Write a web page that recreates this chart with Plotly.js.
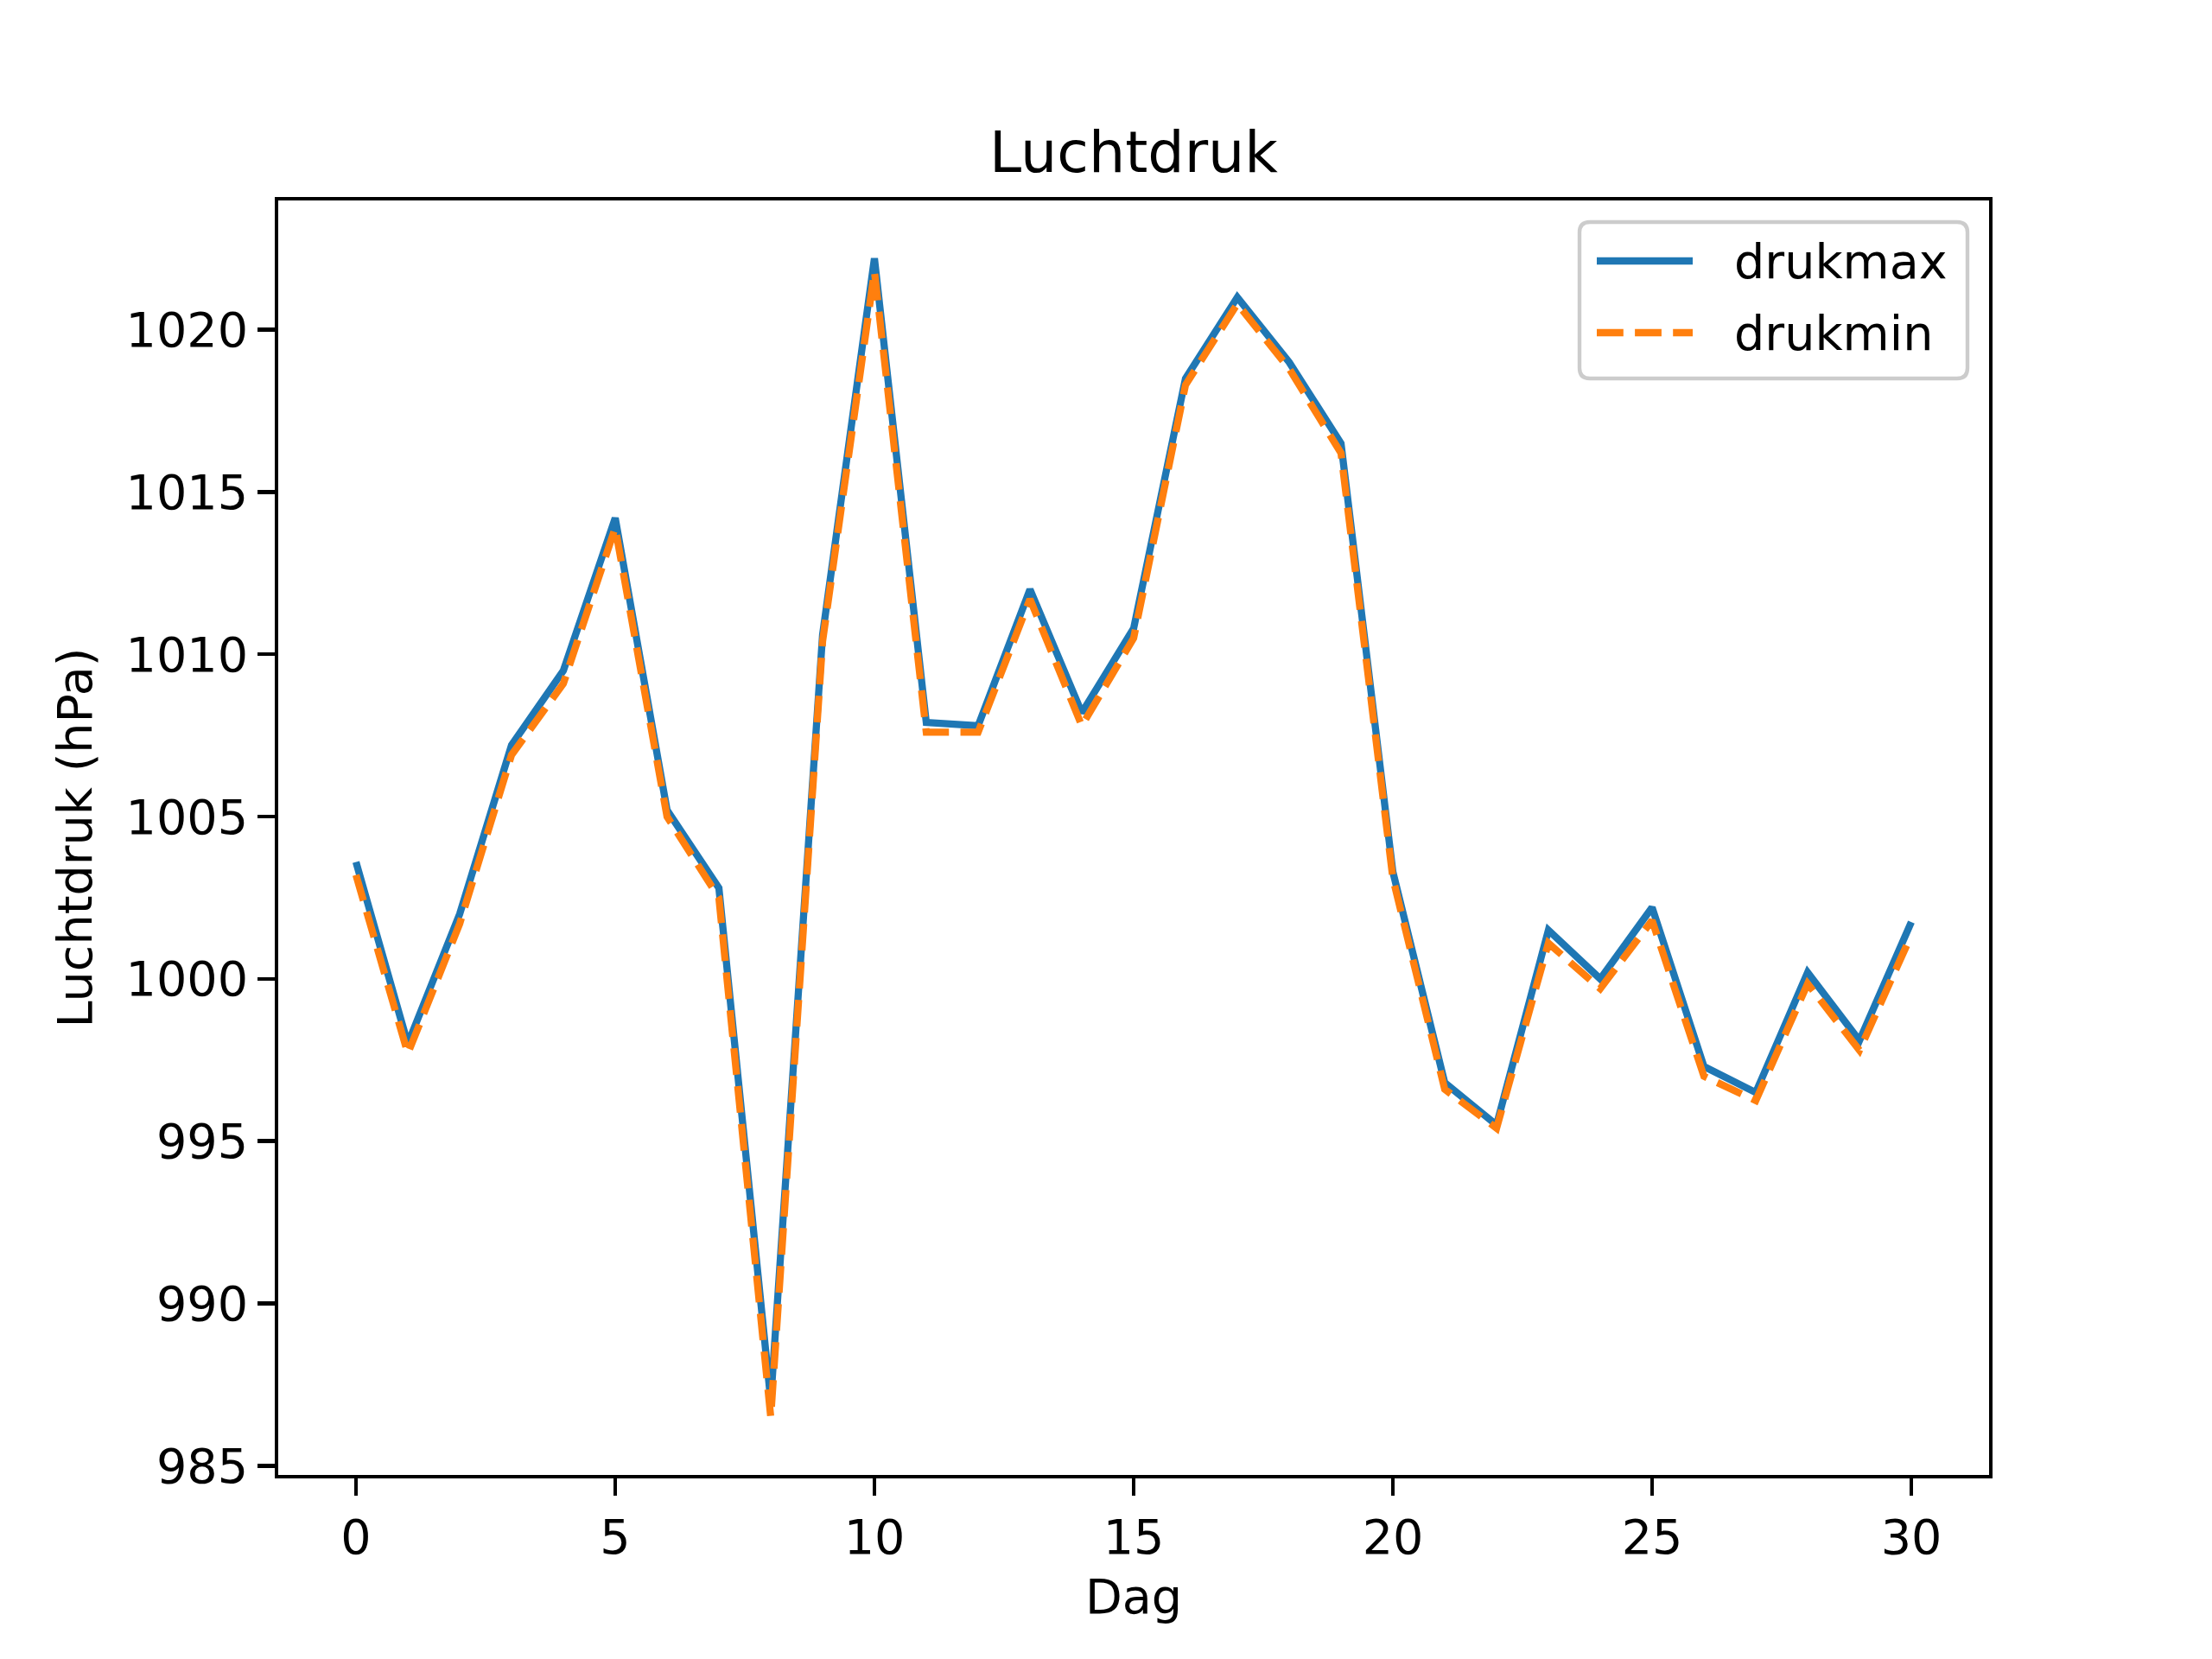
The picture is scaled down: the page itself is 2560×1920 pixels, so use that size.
<!DOCTYPE html>
<html>
<head>
<meta charset="utf-8">
<script src="https://cdn.plot.ly/plotly-3.0.1.min.js"></script>
<style>html,body{margin:0;padding:0;background:#fff;}#chart{width:2560px;height:1920px;}</style>
</head>
<body>
<div id="chart"></div>
<script>
const dagen = [0,1,2,3,4,5,6,7,8,9,10,11,12,13,14,15,16,17,18,19,20,21,22,23,24,25,26,27,28,29,30];
const drukmax = [1003.6,998.0,1002.0,1007.2,1009.5,1014.2,1005.2,1002.8,987.0,1010.6,1022.2,1007.9,1007.8,1012.0,1008.2,1010.8,1018.5,1021.0,1019.0,1016.5,1003.3,996.8,995.5,1001.5,1000.0,1002.2,997.3,996.5,1000.2,998.1,1001.75];
const drukmin = [1003.2,997.7,1001.7,1006.9,1009.1,1013.9,1005.0,1002.5,986.5,1010.4,1021.8,1007.6,1007.6,1011.7,1007.8,1010.5,1018.3,1020.8,1018.8,1016.2,1003.1,996.6,995.4,1001.1,999.7,1001.8,997.0,996.25,999.85,997.8,1001.35];
const xTicks = [0,5,10,15,20,25,30];
const yTicks = [985,990,995,1000,1005,1010,1015,1020];
const seriesNames = ['drukmax', 'drukmin'];

const FONT = 'DejaVu Sans, sans-serif';
const BLUE = '#1f77b4', ORANGE = '#ff7f0e';
const DASH = '30.8px,13.3px';

// axis ranges with matplotlib-style 5% margins
const allY = drukmax.concat(drukmin);
const yMin = Math.min.apply(null, allY), yMax = Math.max.apply(null, allY);
const yPad = 0.05 * (yMax - yMin);
const xMin = Math.min.apply(null, dagen), xMax = Math.max.apply(null, dagen);
const xPad = 0.05 * (xMax - xMin);

const traces = [
  {x: dagen, y: drukmax, name: seriesNames[0], type: 'scatter', mode: 'lines',
   line: {color: BLUE, width: 8.3}, showlegend: false},
  {x: dagen, y: drukmin, name: seriesNames[1], type: 'scatter', mode: 'lines',
   line: {color: ORANGE, width: 8.3, dash: DASH}, showlegend: false}
];

const axisCommon = {
  showgrid: false, zeroline: false, showline: true, mirror: true,
  linecolor: '#000', linewidth: 4.4, ticks: 'outside', ticklen: 19.4,
  tickwidth: 4.4, tickcolor: '#000',
  tickfont: {family: FONT, size: 55.6, color: '#000'}
};

// plot area in pixels (matplotlib axes box)
const W = 2560, H = 1920;
const L = 322, R = 258, T = 232, B = 213;
const pw = W - L - R, ph = H - T - B;
const px = v => (v - L) / pw;           // pixel x -> paper x
const py = v => (H - B - v) / ph;       // pixel y -> paper y

// legend box (pixels)
const lb = {x0: 1828, x1: 2277, y0: 257, y1: 438, r: 12};
function roundRectPath(b) {
  const x0 = px(b.x0), x1 = px(b.x1), yT = py(b.y0), yB = py(b.y1);
  const rx = b.r / pw, ry = b.r / ph;
  return `M${x0+rx},${yB} L${x1-rx},${yB} Q${x1},${yB} ${x1},${yB+ry} ` +
         `L${x1},${yT-ry} Q${x1},${yT} ${x1-rx},${yT} L${x0+rx},${yT} ` +
         `Q${x0},${yT} ${x0},${yT-ry} L${x0},${yB+ry} Q${x0},${yB} ${x0+rx},${yB} Z`;
}
const legendRows = [302, 385];
const legendColors = [BLUE, ORANGE];
const legendDash = ['solid', DASH];

const shapes = [{
  type: 'path', xref: 'paper', yref: 'paper', path: roundRectPath(lb),
  fillcolor: 'rgba(255,255,255,0.8)', line: {color: '#cccccc', width: 4.4}
}];
const annotations = [];
legendRows.forEach((yy, i) => {
  shapes.push({type: 'line', xref: 'paper', yref: 'paper',
    x0: px(1848), x1: px(1959), y0: py(yy), y1: py(yy),
    line: {color: legendColors[i], width: 8.3, dash: legendDash[i]}});
  annotations.push({xref: 'paper', yref: 'paper', x: px(2005), y: py(yy),
    xanchor: 'left', yanchor: 'middle', showarrow: false, text: seriesNames[i],
    font: {family: FONT, size: 55.6, color: '#000'}});
});

const layout = {
  width: W, height: H,
  paper_bgcolor: '#fff', plot_bgcolor: '#fff',
  margin: {l: L, r: R, t: T, b: B, pad: 0},
  font: {family: FONT, color: '#000'},
  title: {text: 'Luchtdruk', font: {family: FONT, size: 66.7, color: '#000'},
          x: 0.5, xanchor: 'center', y: 1 - 176/1920, yanchor: 'middle', xref: 'paper'},
  xaxis: Object.assign({}, axisCommon, {
    range: [xMin - xPad, xMax + xPad], tickvals: xTicks, ticktext: xTicks.map(String),
    title: {text: 'Dag', font: {family: FONT, size: 55.6, color: '#000'}, standoff: 20}
  }),
  yaxis: Object.assign({}, axisCommon, {
    range: [yMin - yPad, yMax + yPad], tickvals: yTicks, ticktext: yTicks.map(String),
    title: {text: 'Luchtdruk (hPa)', font: {family: FONT, size: 55.6, color: '#000'}, standoff: 22}
  }),
  showlegend: false,
  shapes: shapes,
  annotations: annotations
};
Plotly.newPlot('chart', traces, layout, {staticPlot: true});
</script>
</body>
</html>
